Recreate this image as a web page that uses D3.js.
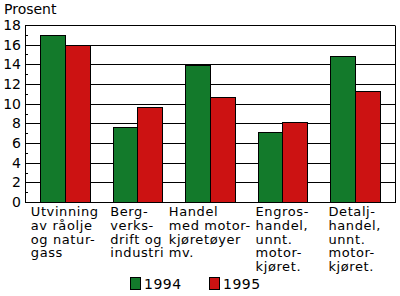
<!DOCTYPE html>
<html>
<head>
<meta charset="utf-8">
<script src="https://cdn.jsdelivr.net/npm/d3@7"></script>
<style>
  body { margin: 0; background: #fff; }
  svg text { font-family: "DejaVu Sans", sans-serif; fill: #000; }
</style>
</head>
<body>
<div id="chart"></div>
<script>
const categories = [
  ['Utvinning', 'av råolje', 'og natur-', 'gass'],
  ['Berg-', 'verks-', 'drift og', 'industri'],
  ['Handel', 'med motor-', 'kjøretøyer', 'mv.'],
  ['Engros-', 'handel,', 'unnt.', 'motor-', 'kjøret.'],
  ['Detalj-', 'handel,', 'unnt.', 'motor-', 'kjøret.']
]
const years = ['1994', '1995']
const values1994 = [17.0, 7.6, 13.9, 7.1, 14.8]
const values1995 = [16.0, 9.7, 10.7, 8.1, 11.3]
const yTicks = [0, 2, 4, 6, 8, 10, 12, 14, 16, 18]
const colors = {'1994': '#137a2b', '1995': '#cc1212'}

const width = 400, height = 296
const plotLeft = 25, plotRight = 395, plotTop = 25, plotBottom = 202

const svg = d3.select('#chart').append('svg')
  .attr('width', width)
  .attr('height', height)

const y = d3.scaleLinear().domain([0, 18]).range([plotBottom, plotTop])
const x = d3.scaleBand().domain(d3.range(categories.length))
  .range([28.5, 391]).paddingInner(0.324).paddingOuter(0.162)
const xs = d3.scaleBand().domain(years).range([0, x.bandwidth()])

const crisp = v => Math.round(v) + 0.5

// gridlines
svg.append('g').selectAll('line')
  .data(yTicks)
  .join('line')
  .attr('x1', plotLeft).attr('x2', plotRight)
  .attr('y1', d => crisp(y(d))).attr('y2', d => crisp(y(d)))
  .attr('stroke', '#000').attr('stroke-width', 1)

// minor ticks at odd values
svg.append('g').selectAll('line')
  .data(d3.range(1, 18, 2))
  .join('line')
  .attr('x1', plotLeft).attr('x2', plotLeft + 3)
  .attr('y1', d => crisp(y(d))).attr('y2', d => crisp(y(d)))
  .attr('stroke', '#000')

// frame
svg.append('line').attr('x1', plotLeft + 0.5).attr('x2', plotLeft + 0.5)
  .attr('y1', crisp(y(18))).attr('y2', crisp(y(0)) + 0.5).attr('stroke', '#000')
svg.append('line').attr('x1', plotRight + 0.5).attr('x2', plotRight + 0.5)
  .attr('y1', crisp(y(18))).attr('y2', crisp(y(0)) + 0.5).attr('stroke', '#000')

// y labels
svg.append('g').selectAll('text')
  .data(yTicks)
  .join('text')
  .attr('x', 21).attr('y', d => y(d) + 5)
  .attr('text-anchor', 'end')
  .attr('font-size', 14)
  .text(d => d)

svg.append('text').attr('x', 4).attr('y', 14).attr('font-size', 14).text('Prosent')

// bars
const series = [values1994, values1995]
years.forEach((yr, i) => {
  svg.append('g').selectAll('rect')
    .data(series[i])
    .join('rect')
    .attr('x', (d, j) => Math.round(x(j) + xs(yr)) + 0.5)
    .attr('width', Math.round(xs.bandwidth()))
    .attr('y', d => crisp(y(d)))
    .attr('height', d => crisp(y(0)) - crisp(y(d)))
    .attr('fill', colors[yr])
    .attr('stroke', '#000').attr('stroke-width', 1)
})

// category labels
const lineH = 13.8
const labels = svg.append('g').selectAll('text')
  .data(categories)
  .join('text')
  .attr('font-size', 13)
  .attr('letter-spacing', 0.6)

labels.selectAll('tspan')
  .data(d => d)
  .join('tspan')
  .attr('dy', (d, i) => i == 0 ? 0 : lineH)
  .text(d => d)

labels.each(function(d, j) {
  let t = d3.select(this)
  let w = d3.max(t.selectAll('tspan').nodes(), n => n.getComputedTextLength())
  let x0 = x(j) + x.bandwidth() / 2 - w / 2
  t.attr('y', 216)
  t.selectAll('tspan').attr('x', x0)
})

// legend
const legend = svg.append('g').selectAll('g')
  .data(years)
  .join('g')
  .attr('transform', (d, i) => `translate(${130 + i * 79},277)`)
legend.append('rect')
  .attr('x', 0.5).attr('y', 0.5).attr('width', 10).attr('height', 12)
  .attr('fill', d => colors[d])
  .attr('stroke', '#000')
legend.append('text')
  .attr('x', 14).attr('y', 12)
  .attr('font-size', 14)
  .attr('letter-spacing', 0.5)
  .text(d => d)
</script>
</body>
</html>
